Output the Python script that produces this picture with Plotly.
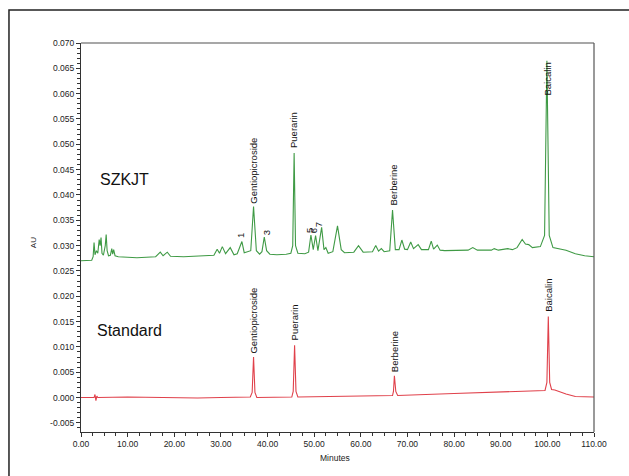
import plotly.graph_objects as go

# ---- data ----
szkjt_time = [0.0, 2.3, 2.6, 2.8, 3.0, 3.3, 3.6, 3.9, 4.1, 4.3, 4.5, 4.8, 5.2, 5.4, 5.6, 5.9, 6.3, 6.6, 6.8, 7.0, 7.3,
              8.0, 10, 12, 14, 16, 17.0, 17.6, 18.5, 19.2, 22, 25, 27, 28.5, 29.2, 29.7, 30.3, 31.0, 32.0, 32.8,
              33.5, 34.5, 35.0, 35.6, 36.4, 37.0, 37.6, 38.3, 38.8, 39.3, 39.8, 40.5, 42, 44, 45.0, 45.4, 45.7,
              46.0, 46.5, 48, 48.8, 49.3, 49.8, 50.3, 50.8, 51.6, 52.1, 52.5, 53.0, 54.0, 55.0, 55.8, 56.5, 58.5,
              59.5, 60.5, 62.5, 63.2, 63.8, 64.4, 65.0, 66.2, 66.8, 67.4, 68.2, 68.8, 69.4, 70.0, 70.7, 71.3,
              72.3, 73.0, 74.5, 75.1, 75.6, 76.4, 77.0, 78, 80, 83, 84, 85, 88, 88.6, 89.5, 91.5, 92.5, 93.5,
              94.6, 95.3, 96.0, 96.8, 98.5, 99.4, 99.9, 100.4, 101.2, 103, 104, 106, 108, 110]
szkjt_au = [0.0270, 0.0271, 0.0278, 0.0306, 0.0282, 0.0290, 0.0285, 0.0312, 0.0300, 0.0316, 0.0285, 0.0281, 0.0300,
            0.0322, 0.0290, 0.0280, 0.0281, 0.0294, 0.0283, 0.0292, 0.0280,
            0.0278, 0.0277, 0.0276, 0.0277, 0.0278, 0.0287, 0.0280, 0.0287, 0.0279, 0.0278, 0.0279, 0.0280,
            0.0281, 0.0293, 0.0285, 0.0298, 0.0284, 0.0296, 0.0282,
            0.0284, 0.0308, 0.0286, 0.0288, 0.0290, 0.0377, 0.0290, 0.0283, 0.0288, 0.0317, 0.0290, 0.0283,
            0.0282, 0.0283, 0.0285, 0.0300, 0.0483,
            0.0300, 0.0285, 0.0284, 0.0287, 0.0321, 0.0292, 0.0320, 0.0290, 0.0336, 0.0292, 0.0296, 0.0285,
            0.0288, 0.0339, 0.0292, 0.0286, 0.0287,
            0.0300, 0.0287, 0.0288, 0.0300, 0.0289, 0.0294, 0.0288, 0.0290, 0.0370, 0.0292, 0.0292, 0.0311,
            0.0293, 0.0292, 0.0307, 0.0294,
            0.0302, 0.0292, 0.0292, 0.0309, 0.0293, 0.0301, 0.0291, 0.0290, 0.0290, 0.0291, 0.0296, 0.0291,
            0.0291, 0.0294, 0.0291, 0.0294, 0.0292, 0.0296,
            0.0312, 0.0303, 0.0302, 0.0296, 0.0298, 0.0320, 0.0665, 0.0320, 0.0296, 0.0293, 0.0291, 0.0284,
            0.0280, 0.0278]

standard_time = [0, 2.8, 3.0, 3.2, 3.4, 3.6, 10, 15, 20, 25, 30, 36.3, 36.7, 37.0, 37.3, 37.7, 45.2, 45.5, 45.8,
                 46.1, 46.5, 55, 66.8, 67.0, 67.2, 67.5, 67.9, 80, 95, 99.5, 99.9, 100.2, 100.5, 100.9, 101.6,
                 102.5, 104, 106, 108, 110]
standard_au = [0.0000, 0.0000, 0.0006, -0.0006, 0.0003, 0.0000, 0.0001, 0.0000, -0.0001, -0.0001, 0.0000,
               0.0001, 0.0010, 0.0080, 0.0010, 0.0000, 0.0001, 0.0012, 0.0103, 0.0012, 0.0001, 0.0002, 0.0004,
               0.0012, 0.0043, 0.0012, 0.0004, 0.0008, 0.0012, 0.0014, 0.0030, 0.0160, 0.0030, 0.0016, 0.0015,
               0.0012, 0.0007, 0.0002, 0.0001, 0.0001]

szkjt_labels = ["Gentiopicroside", "Puerarin", "Berberine", "Baicalin", "1", "3", "5", "6", "7"]
szkjt_label_time = [36.9, 45.7, 67.1, 100.0, 34.1, 39.7, 49.1, 50.0, 51.1]
szkjt_label_au = [0.0379, 0.0489, 0.0376, 0.0592, 0.0310, 0.0316, 0.0322, 0.0320, 0.0332]

standard_labels = ["Gentiopicroside", "Puerarin", "Berberine", "Baicalin"]
standard_label_time = [36.9, 45.8, 67.1, 100.2]
standard_label_au = [0.0083, 0.0108, 0.0047, 0.0165]

event_times = [24.9, 34.1, 34.8, 42.1, 43.1, 50.9, 62.2, 65.2, 65.8, 67.1, 69.3, 70.6, 71.9, 73.0, 75.1, 84.5]

y_ticks = [-0.005, 0.000, 0.005, 0.010, 0.015, 0.020, 0.025, 0.030, 0.035, 0.040, 0.045, 0.050, 0.055, 0.060,
           0.065, 0.070]
x_ticks = [0, 10, 20, 30, 40, 50, 60, 70, 80, 90, 100, 110]

FONT = "Liberation Sans, Arial, sans-serif"

fig = go.Figure()
fig.add_trace(go.Scatter(x=szkjt_time, y=szkjt_au, mode="lines",
                         line=dict(color="#3f9a45", width=1.1), hoverinfo="skip"))
fig.add_trace(go.Scatter(x=standard_time, y=standard_au, mode="lines",
                         line=dict(color="#e0414b", width=1.1), hoverinfo="skip"))
fig.add_trace(go.Scatter(x=event_times, y=[0.0722] * len(event_times), mode="markers",
                         marker=dict(color="#8c8c8c", size=2.5), cliponaxis=False, hoverinfo="skip"))

ann = []
for name, t, v in zip(szkjt_labels + standard_labels,
                      szkjt_label_time + standard_label_time,
                      szkjt_label_au + standard_label_au):
    ann.append(dict(x=t, y=v, xref="x", yref="y", text=name, showarrow=False, textangle=-90,
                    xanchor="center", yanchor="bottom", font=dict(family=FONT, size=9.5, color="#111")))

ann += [
    dict(x=0.033, y=0.648, xref="paper", yref="paper", text="SZKJT", showarrow=False,
         xanchor="left", yanchor="middle", font=dict(family=FONT, size=16, color="#111")),
    dict(x=0.027, y=0.262, xref="paper", yref="paper", text="Standard", showarrow=False,
         xanchor="left", yanchor="middle", font=dict(family=FONT, size=16, color="#111")),
    dict(x=-0.0936, y=0.488, xref="paper", yref="paper", text="AU", showarrow=False, textangle=-90,
         xanchor="center", yanchor="middle", font=dict(family=FONT, size=8, color="#222")),
    dict(x=0.495, y=-0.0668, xref="paper", yref="paper", text="Minutes", showarrow=False,
         xanchor="center", yanchor="middle", font=dict(family=FONT, size=8.5, color="#222")),
]

shapes = [
    # outer frame
    dict(type="rect", xref="paper", yref="paper", x0=-0.1404, x1=1.3, y0=-0.3, y1=1.0848,
         line=dict(color="#222", width=1.5), layer="below"),
    # gray top and right border of plot area
    dict(type="line", xref="paper", yref="paper", x0=0, x1=1, y0=1, y1=1, line=dict(color="#8a8a8a", width=1.5)),
    dict(type="line", xref="paper", yref="paper", x0=1, x1=1, y0=0, y1=1, line=dict(color="#555", width=1.2)),
]

fig.update_layout(
    width=629, height=476,
    margin=dict(l=81, r=35, t=43, b=44),
    paper_bgcolor="white", plot_bgcolor="white",
    showlegend=False,
    annotations=ann, shapes=shapes,
    font=dict(family=FONT, color="#222"),
)
fig.update_xaxes(range=[0, 110], tickvals=x_ticks, ticktext=[f"{v:.2f}" for v in x_ticks],
                 ticks="outside", ticklen=4, tickcolor="#333", tickwidth=1,
                 minor=dict(dtick=2.5, ticks="outside", ticklen=2.5, tickcolor="#333", showgrid=False),
                 showline=True, linecolor="#333", linewidth=1.2, showgrid=False, zeroline=False,
                 tickfont=dict(family=FONT, size=8.5, color="#222"))
fig.update_yaxes(range=[-0.0068, 0.070], tickvals=y_ticks, ticktext=[f"{v:.3f}" for v in y_ticks],
                 ticks="outside", ticklen=4, tickcolor="#333", tickwidth=1,
                 minor=dict(dtick=0.001, ticks="outside", ticklen=2.5, tickcolor="#333", showgrid=False),
                 showline=True, linecolor="#333", linewidth=1.2, showgrid=False, zeroline=False,
                 tickfont=dict(family=FONT, size=8.5, color="#222"))

fig.write_html("out.html", config={"displayModeBar": False},
               post_script="document.body.style.margin='0';document.body.style.overflow='hidden';")
